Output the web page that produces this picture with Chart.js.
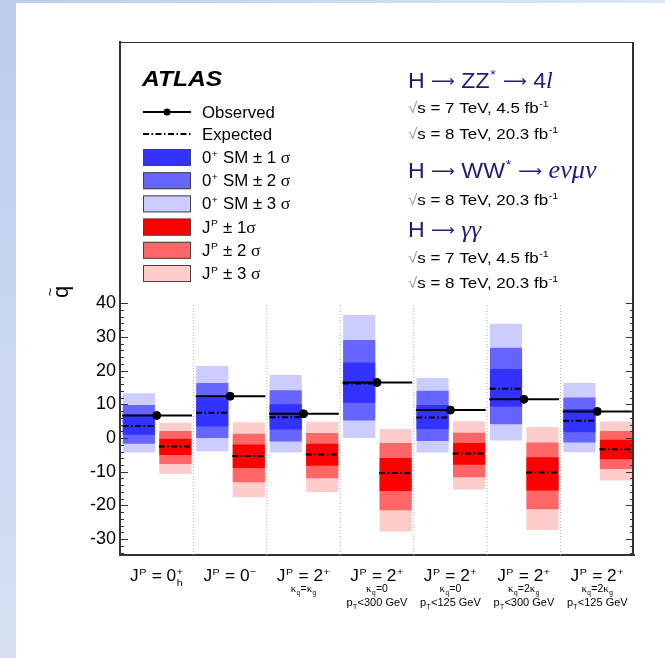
<!DOCTYPE html>
<html>
<head>
<meta charset="utf-8">
<title>Spin/parity test statistic</title>
<script src="https://cdn.jsdelivr.net/npm/chart.js@4.4.1/dist/chart.umd.min.js"></script>
<style>
  html, body { margin: 0; padding: 0; background: #fff; }
  #stripL { position: absolute; left: 0; top: 0; width: 16px; height: 658px;
            background: linear-gradient(#bccdec, #d6e0f2); }
  #stripT { position: absolute; left: 0; top: 0; width: 665px; height: 3px;
            background: linear-gradient(90deg, #bccdec, #dde6f5); }
  #c { position: absolute; left: 0; top: 0; }
</style>
</head>
<body>
<div id="stripL"></div>
<div id="stripT"></div>
<canvas id="c" width="665" height="658"></canvas>
<script>
// ---- data -------------------------------------------------------------
// Alternative spin/parity hypotheses (TeX-like markup: ^ superscript, _ subscript)
const categories = ['J^P = 0^+_h', 'J^P = 0^−', 'J^P = 2^+', 'J^P = 2^+', 'J^P = 2^+', 'J^P = 2^+', 'J^P = 2^+'];
const couplingNotes = ['', '', 'κ_q=κ_g', 'κ_q=0', 'κ_q=0', 'κ_q=2κ_g', 'κ_q=2κ_g'];
const ptCuts = ['', '', '', 'p_T<300 GeV', 'p_T<125 GeV', 'p_T<300 GeV', 'p_T<125 GeV'];

// observed test statistic
const observed = [6.7, 12.4, 7.2, 16.5, 8.3, 11.5, 7.9];
// expected medians under the SM 0+ hypothesis and under the alternative J^P
const expectedSM = [3.6, 7.5, 6.2, 16.2, 6.1, 14.6, 5.1];
const expectedAlt = [-2.5, -5.3, -4.9, -10.4, -4.6, -10.2, -3.3];

// SM 0+ bands [low, high]
const sm1 = [[1.0, 7.0], [3.4, 12.0], [2.5, 10.0], [10.5, 22.4], [2.6, 9.8], [9.3, 20.5], [1.75, 8.6]];
const sm2 = [[-1.7, 9.8], [0.0, 16.3], [-1.0, 14.2], [5.2, 29.1], [-0.9, 14.0], [4.1, 26.8], [-1.3, 12.0]];
const sm3 = [[-4.3, 13.3], [-3.9, 21.4], [-4.3, 18.7], [0.0, 36.5], [-4.3, 17.9], [-0.7, 33.9], [-4.2, 16.3]];
// alternative J^P bands [low, high]
const alt1 = [[-5.0, -0.2], [-8.9, -1.9], [-8.2, -1.7], [-15.7, -5.9], [-7.9, -1.5], [-15.6, -5.7], [-6.3, -0.5]];
const alt2 = [[-7.7, 2.1], [-13.1, 1.3], [-11.9, 1.5], [-21.4, -1.5], [-11.6, 1.6], [-21.1, -1.3], [-9.2, 2.1]];
const alt3 = [[-10.7, 4.5], [-17.6, 4.7], [-16.0, 4.8], [-27.7, 2.7], [-15.3, 5.0], [-27.3, 3.3], [-12.6, 4.9]];

// y-axis tick labels
const yTickValues = [-30, -20, -10, 0, 10, 20, 30, 40];

// ---- style ------------------------------------------------------------
const SANS = '"Liberation Sans", Arial, Helvetica, sans-serif';
const SERIF = '"Liberation Serif", "Times New Roman", serif';
const ARROWS = '"DejaVu Sans", sans-serif';
const COL = {
  sm1: '#3333ff', sm2: '#6666ff', sm3: '#ccccff',
  alt1: '#ff0000', alt2: '#ff6666', alt3: '#ffcccc',
  navy: '#1c1c7c', axis: '#333333', sep: '#b4b4b4'
};
const DASHDOT = [6, 2.5, 1.5, 2.5];
const Y_MIN = -34.7, Y_MAX = 117.5;
const GREEK = 'σγνμκ';
// horizontal placement of the two boxes inside a category (category units)
const SM_OFFSET = -0.243, ALT_OFFSET = 0.254;

// floating bars placed beside each category centre
function boxes(ranges, offset) {
  return ranges.map((r, i) => ({ x: i + offset, y: r }));
}
// horizontal segments centred on each category
function segments(values, x0, x1) {
  const pts = [];
  values.forEach((v, i) => { pts.push({ x: i + x0, y: v }, { x: i + x1, y: v }, { x: i + 0.5, y: null }); });
  return pts;
}
// dotted category separators
function separators() {
  const pts = [];
  for (let i = 0; i < categories.length - 1; i++) {
    pts.push({ x: i + 0.5, y: Y_MIN }, { x: i + 0.5, y: 40 }, { x: i + 0.5, y: null });
  }
  return pts;
}

// ---- tiny rich-text helpers -------------------------------------------
function parseTex(s, size, extra = {}) {
  const out = [];
  let buf = '';
  const flush = () => { if (buf) { out.push({ t: buf, size, ...extra }); buf = ''; } };
  for (let i = 0; i < s.length;) {
    const c = s[i];
    if (c === '^' || c === '_') {
      flush();
      let arg;
      if (s[i + 1] === '{') { const j = s.indexOf('}', i); arg = s.slice(i + 2, j); i = j + 1; }
      else { arg = s[i + 1]; i += 2; }
      const key = c === '^' ? 'sup' : 'sub';
      const last = out[out.length - 1];
      if (last && last.script && !last[key]) last[key] = arg;
      else out.push({ script: true, [key]: arg, size, ...extra });
    } else if (GREEK.includes(c)) {
      flush();
      out.push({ t: c, size: size * 1.05, ...extra, fam: SERIF });
      i++;
    } else if (c === '→') {
      // long thin arrow
      flush();
      out.push({ t: '⟶', size: size * 0.72, dy: -size * 0.1, ...extra, fam: ARROWS });
      i++;
    } else { buf += c; i++; }
  }
  flush();
  return out;
}
function fontOf(p, s) {
  return `${p.style || 'normal'} ${p.weight || 'normal'} ${s}px ${p.fam || SANS}`;
}
function drawParts(ctx, x, y, parts, opt = {}) {
  const align = opt.align || 'left', sx = opt.sx || 1, color = opt.color || '#000';
  ctx.save();
  ctx.translate(x, y);
  ctx.scale(sx, 1);
  ctx.textBaseline = 'alphabetic';
  ctx.textAlign = 'left';
  const items = parts.map(p => {
    if (p.script) {
      const s = p.size * 0.62, f = fontOf(p, s);
      ctx.font = f;
      const w = Math.max(p.sup ? ctx.measureText(p.sup).width : 0, p.sub ? ctx.measureText(p.sub).width : 0);
      return { ...p, f, w: w + p.size * 0.06 };
    }
    const f = fontOf(p, p.size);
    ctx.font = f;
    return { ...p, f, w: ctx.measureText(p.t).width };
  });
  const total = items.reduce((a, b) => a + b.w, 0);
  let cx = align === 'center' ? -total / 2 : 0;
  for (const it of items) {
    ctx.font = it.f;
    ctx.fillStyle = it.color || color;
    if (it.script) {
      if (it.sup) ctx.fillText(it.sup, cx + it.size * 0.03, -it.size * 0.4);
      if (it.sub) ctx.fillText(it.sub, cx + it.size * 0.03, it.size * 0.3);
    } else {
      ctx.fillText(it.t, cx, it.dy || 0);
    }
    cx += it.w;
  }
  ctx.restore();
}

// ---- plugins ----------------------------------------------------------
const frameAndTicks = {
  id: 'frameAndTicks',
  afterDraw(chart) {
    const { ctx, chartArea: a, scales: { y } } = chart;
    ctx.save();
    ctx.strokeStyle = COL.axis;
    // top and right edges of the frame
    ctx.lineWidth = 1;
    ctx.beginPath(); ctx.moveTo(a.left, a.top + 0.5); ctx.lineTo(a.right, a.top + 0.5); ctx.stroke();
    ctx.lineWidth = 2;
    ctx.beginPath(); ctx.moveTo(a.right - 1, a.top); ctx.lineTo(a.right - 1, a.bottom); ctx.stroke();
    // inward tick marks on both vertical axes
    ctx.lineWidth = 1;
    for (let v = -34; v <= 40; v += 2) {
      const py = Math.round(y.getPixelForValue(v)) + 0.5;
      const len = v % 10 === 0 ? 8 : 4;
      ctx.beginPath();
      ctx.moveTo(a.left, py); ctx.lineTo(a.left + len, py);
      ctx.moveTo(a.right - len, py); ctx.lineTo(a.right, py);
      ctx.stroke();
    }
    ctx.restore();
  }
};

const annotations = {
  id: 'annotations',
  afterDraw(chart) {
    const { ctx, scales: { x } } = chart;

    // y-axis title: q with a tilde, rotated
    ctx.save();
    ctx.translate(68, 292);
    ctx.rotate(-Math.PI / 2);
    ctx.fillStyle = '#000';
    ctx.textAlign = 'center';
    ctx.font = `22px ${SANS}`;
    ctx.fillText('q', 0, 0);
    ctx.font = `15px ${SANS}`;
    ctx.fillText('~', 0, -13);
    ctx.restore();

    // experiment label
    drawParts(ctx, 142, 86, [{ t: 'ATLAS', size: 22, weight: 'bold', style: 'italic' }], { sx: 1.12 });

    // legend
    const lx0 = 143, lx1 = 191, tx = 202;
    ctx.save();
    ctx.strokeStyle = '#000';
    ctx.fillStyle = '#000';
    ctx.lineWidth = 2;
    ctx.beginPath(); ctx.moveTo(lx0, 112); ctx.lineTo(lx1, 112); ctx.stroke();
    ctx.beginPath(); ctx.arc(167, 112, 3.5, 0, Math.PI * 2); ctx.fill();
    ctx.setLineDash(DASHDOT);
    ctx.beginPath(); ctx.moveTo(lx0, 134); ctx.lineTo(lx1, 134); ctx.stroke();
    ctx.setLineDash([]);
    const entries = [
      [COL.sm1, '0^+ SM ± 1 σ'], [COL.sm2, '0^+ SM ± 2 σ'], [COL.sm3, '0^+ SM ± 3 σ'],
      [COL.alt1, 'J^P ± 1σ'], [COL.alt2, 'J^P ± 2 σ'], [COL.alt3, 'J^P ± 3 σ']
    ];
    ctx.lineWidth = 1;
    ctx.strokeStyle = '#444';
    entries.forEach(([c], k) => {
      const top = 149 + k * 23.2;
      ctx.fillStyle = c;
      ctx.fillRect(lx0, top, lx1 - lx0, 17);
      ctx.strokeRect(lx0 + 0.5, top + 0.5, lx1 - lx0 - 1, 16);
    });
    ctx.restore();
    drawParts(ctx, tx, 118, parseTex('Observed', 16), { sx: 1.05 });
    drawParts(ctx, tx, 140, parseTex('Expected', 16), { sx: 1.05 });
    entries.forEach(([, label], k) => {
      drawParts(ctx, tx, 163 + k * 23.2, parseTex(label, 16), { sx: 1.05 });
    });

    // channel descriptions
    const ax = 408;
    const sqrtS = (txt) => [{ t: '√', size: 15, color: '#9c9c9c' }, ...parseTex(txt, 15)];
    drawParts(ctx, ax, 88, [...parseTex('H → ZZ^* → 4', 22), { t: 'l', size: 23, fam: SERIF, style: 'italic' }],
      { sx: 1.05, color: COL.navy });
    drawParts(ctx, ax, 113, sqrtS('s = 7 TeV, 4.5 fb^{-1}'), { sx: 1.13 });
    drawParts(ctx, ax, 139, sqrtS('s = 8 TeV, 20.3 fb^{-1}'), { sx: 1.13 });
    drawParts(ctx, ax, 178, [...parseTex('H → WW^* → ', 22), { t: 'eνμν', size: 25, fam: SERIF, style: 'italic' }],
      { sx: 1.05, color: COL.navy });
    drawParts(ctx, ax, 205, sqrtS('s = 8 TeV, 20.3 fb^{-1}'), { sx: 1.13 });
    drawParts(ctx, ax, 237, [...parseTex('H → ', 22), { t: 'γγ', size: 24, fam: SERIF, style: 'italic' }],
      { sx: 1.05, color: COL.navy });
    drawParts(ctx, ax, 263, sqrtS('s = 7 TeV, 4.5 fb^{-1}'), { sx: 1.13 });
    drawParts(ctx, ax, 288, sqrtS('s = 8 TeV, 20.3 fb^{-1}'), { sx: 1.13 });

    // category labels under the x axis
    categories.forEach((label, i) => {
      const cx = x.getPixelForValue(i);
      drawParts(ctx, cx, 581, parseTex(label, 16), { align: 'center', sx: 1.08 });
      if (couplingNotes[i]) drawParts(ctx, cx, 592, parseTex(couplingNotes[i], 10.5), { align: 'center' });
      if (ptCuts[i]) drawParts(ctx, cx, 606, parseTex(ptCuts[i], 11), { align: 'center' });
    });
  }
};

// ---- chart ------------------------------------------------------------
const band = (ranges, offset, color, order) => ({
  type: 'bar', data: boxes(ranges, offset), backgroundColor: color, borderWidth: 0, order,
  grouped: false, categoryPercentage: 1, barPercentage: 0.88
});
const hline = (data, dash, order) => ({
  type: 'line', data, borderColor: '#000', borderWidth: 2,
  borderDash: dash, pointRadius: 0, spanGaps: false, order, tension: 0
});

new Chart(document.getElementById('c'), {
  type: 'bar',
  data: {
    labels: categories,
    datasets: [
      band(sm3, SM_OFFSET, COL.sm3, 3),
      band(sm2, SM_OFFSET, COL.sm2, 2),
      band(sm1, SM_OFFSET, COL.sm1, 1),
      band(alt3, ALT_OFFSET, COL.alt3, 3),
      band(alt2, ALT_OFFSET, COL.alt2, 2),
      band(alt1, ALT_OFFSET, COL.alt1, 1),
      {
        type: 'line', data: separators(), borderColor: COL.sep, borderWidth: 1,
        borderDash: [1, 2], pointRadius: 0, spanGaps: false, order: 4
      },
      hline(segments(expectedSM, -0.465, -0.025), DASHDOT, 0),
      hline(segments(expectedAlt, 0.03, 0.475), DASHDOT, 0),
      hline(segments(observed, -0.47, 0.48), [], 0),
      {
        type: 'scatter', data: observed.map((v, i) => ({ x: i, y: v })),
        backgroundColor: '#000', borderColor: '#000', pointRadius: 4, showLine: false, order: 0
      }
    ]
  },
  options: {
    responsive: false,
    animation: false,
    devicePixelRatio: 1,
    layout: { padding: { left: 0, top: 42, right: 31, bottom: 0 } },
    plugins: { legend: { display: false }, tooltip: { enabled: false } },
    scales: {
      x: {
        type: 'linear',
        min: -0.5, max: categories.length - 0.5,
        offset: false,
        stacked: false,
        grid: { display: false },
        border: { display: true, color: COL.axis, width: 2 },
        ticks: { display: false },
        afterBuildTicks(scale) { scale.ticks = categories.map((_, i) => ({ value: i })); },
        afterFit(scale) { scale.height = 103; }
      },
      y: {
        stacked: false,
        min: Y_MIN, max: Y_MAX,
        grid: { display: false, drawTicks: false },
        border: { display: true, color: COL.axis, width: 2 },
        ticks: { color: '#000', font: { family: SANS, size: 18 }, padding: 4 },
        afterBuildTicks(scale) { scale.ticks = yTickValues.map(v => ({ value: v })); },
        afterFit(scale) { scale.width = 120; }
      }
    }
  },
  plugins: [frameAndTicks, annotations]
});
</script>
</body>
</html>
